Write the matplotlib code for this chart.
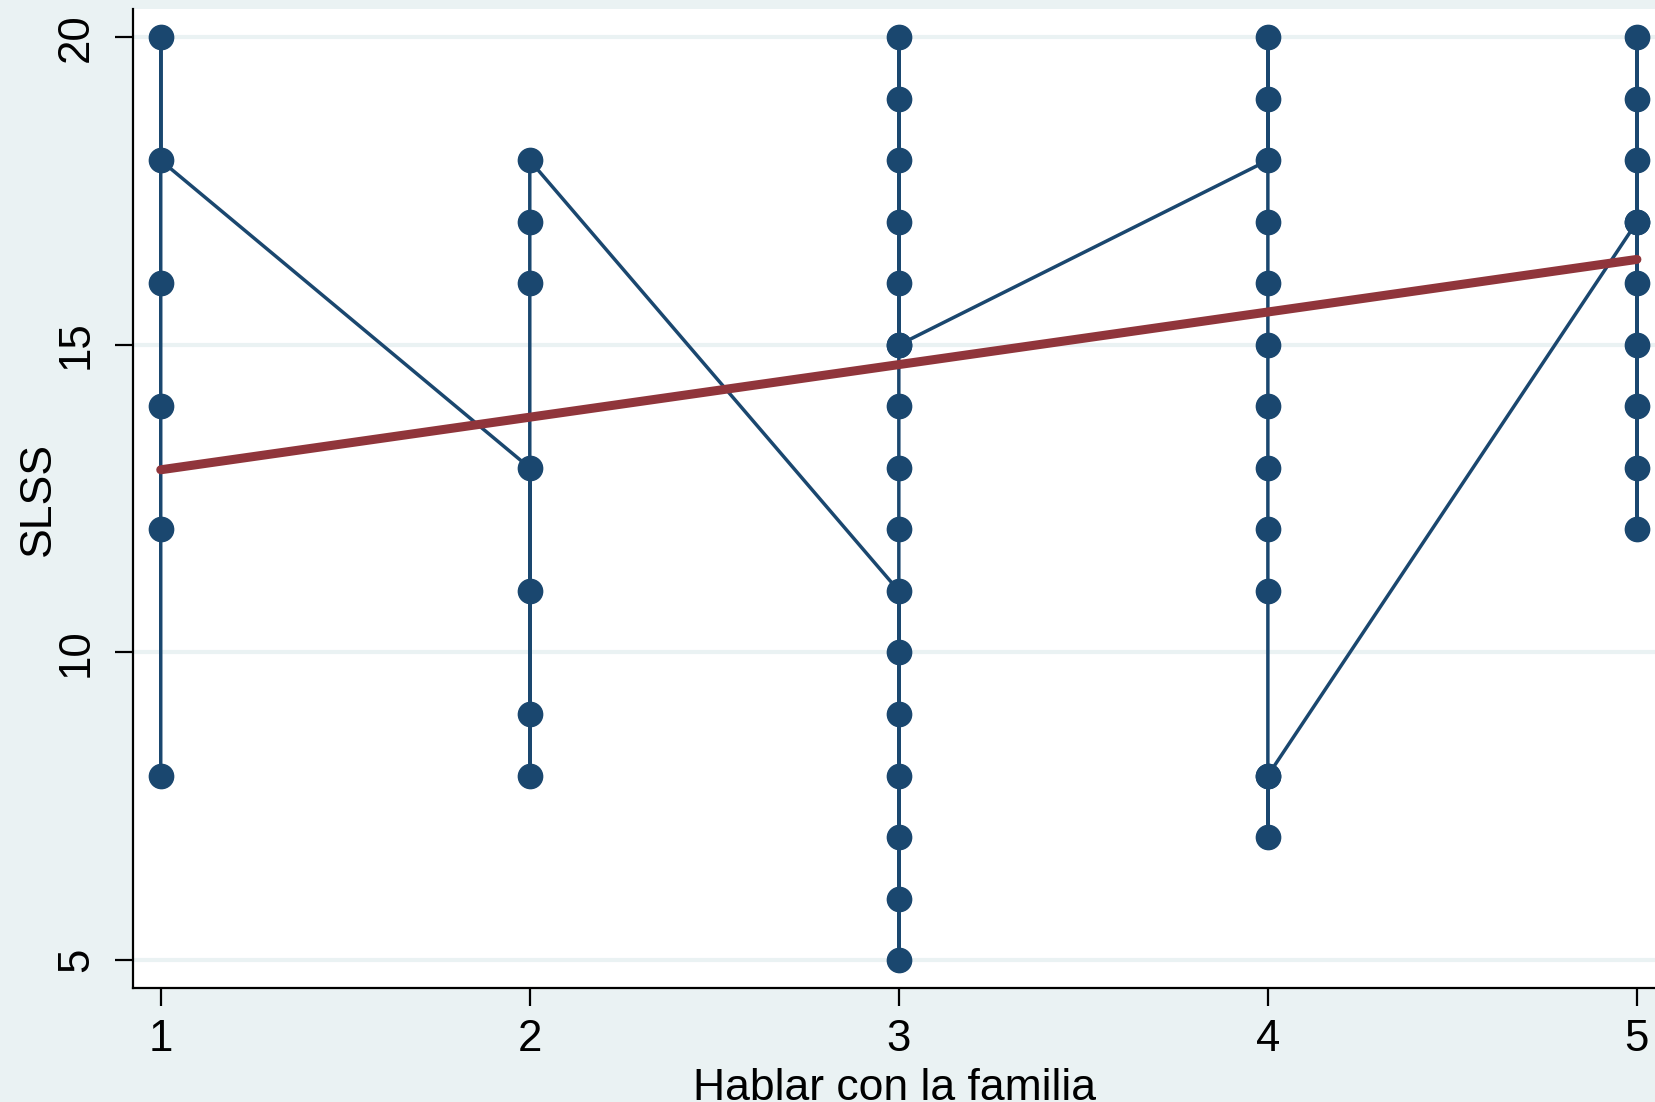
import matplotlib.pyplot as plt

# data in the order the connected line visits it (sorted by x, within-group order as drawn)
hablar = [1, 1, 1, 1, 1, 1,
          2, 2, 2, 2, 2, 2, 2,
          3, 3, 3, 3, 3, 3, 3, 3, 3, 3, 3, 3, 3, 3, 3, 3, 3,
          4, 4, 4, 4, 4, 4, 4, 4, 4, 4, 4, 4, 4,
          5, 5, 5, 5, 5, 5, 5, 5, 5, 5]
slss = [8, 12, 14, 16, 20, 18,
        13, 8, 9, 11, 16, 17, 18,
        11, 5, 6, 7, 8, 9, 10, 12, 13, 14, 16, 17, 18, 19, 20, 15, 15,
        18, 20, 19, 17, 16, 15, 14, 13, 12, 11, 7, 8, 8,
        17, 12, 13, 14, 15, 16, 18, 19, 20, 17]

# linear fit endpoints
fit_x = [1, 5]
fit_y = [12.97, 16.39]

navy = '#1a476f'
maroon = '#90353b'
bg = '#eaf2f3'

plt.rcParams['font.family'] = ['Liberation Sans', 'DejaVu Sans']

fig = plt.figure(figsize=(16.55, 11.02), dpi=100, facecolor=bg)
ax = fig.add_axes([0.0804, 0.1034, 0.9196, 0.8884])
ax.set_facecolor('white')

ax.plot(hablar, slss, color=navy, linewidth=2.5, marker='o', markersize=17.5,
        markerfacecolor=navy, markeredgecolor=navy, zorder=3, clip_on=False)
ax.plot(fit_x, fit_y, color=maroon, linewidth=6.5, solid_capstyle='round', zorder=4)

ax.set_xlim(0.925, 5.049)
ax.set_ylim(4.545, 20.46)
ax.set_xticks([1, 2, 3, 4, 5])
ax.set_yticks([5, 10, 15, 20])
ax.grid(True, axis='y', color=bg, linewidth=3, zorder=0)
ax.set_axisbelow(True)

for s in ['top', 'right']:
    ax.spines[s].set_visible(False)
for s in ['left', 'bottom']:
    ax.spines[s].set_linewidth(1.6)
    ax.spines[s].set_color('black')

ax.tick_params(axis='both', direction='out', length=13, width=1.6, labelsize=31.5)
ax.tick_params(axis='x', pad=9)
ax.tick_params(axis='y', pad=13)
for lab in ax.get_yticklabels():
    lab.set_rotation(90)
    lab.set_va('center')

ax.set_xlabel('Hablar con la familia', fontsize=32, labelpad=6)
ax.set_ylabel('SLSS', fontsize=32, labelpad=-2)

plt.savefig('out.png', dpi=100, facecolor=bg)
